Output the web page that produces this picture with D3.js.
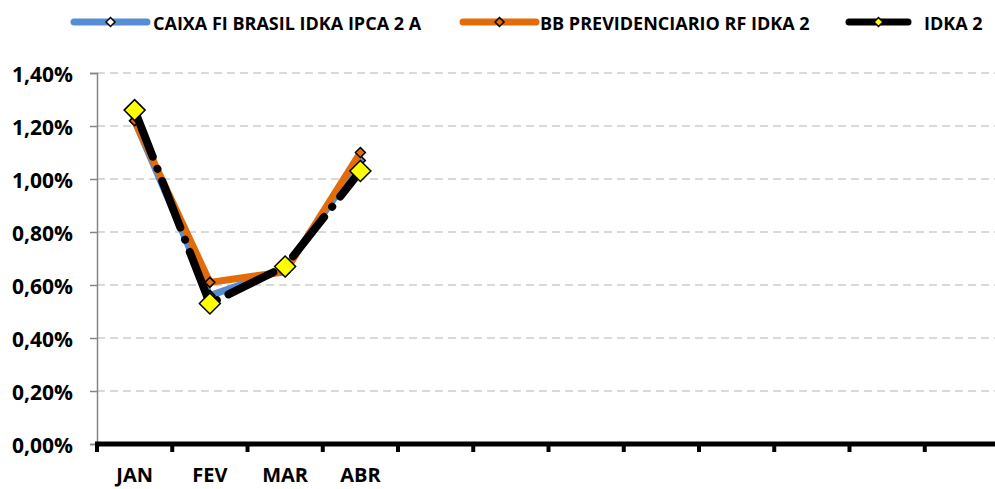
<!DOCTYPE html>
<html>
<head>
<meta charset="utf-8">
<script src="https://cdn.jsdelivr.net/npm/d3@7"></script>
<style>
  body { margin: 0; background: #fff; }
  svg { font-family: "Open Sans", "Noto Sans", sans-serif; font-weight: bold; }
</style>
</head>
<body>
<div id="chart"></div>
<script>
// categories (12 slots on the axis, only first four labelled)
const slots = ["JAN", "FEV", "MAR", "ABR", "MAI", "JUN", "JUL", "AGO", "SET", "OUT", "NOV", "DEZ"];
const tickLabels = ["JAN", "FEV", "MAR", "ABR"];

// series values, in %
const caixa = [1.22, 0.56, 0.66, 1.07];
const bb = [1.22, 0.61, 0.65, 1.10];
const idka = [1.26, 0.53, 0.67, 1.03];

const yTicks = [0, 0.2, 0.4, 0.6, 0.8, 1.0, 1.2, 1.4];

const seriesNames = ["CAIXA FI BRASIL IDKA IPCA 2 A", "BB PREVIDENCIARIO RF IDKA 2", "IDKA 2"];

const width = 995, height = 489;
const margin = { top: 73, right: -5, bottom: 45, left: 97 };

const svg = d3.select("#chart")
  .append("svg")
  .attr("width", width)
  .attr("height", height);

const x = d3.scaleBand()
  .domain(slots)
  .range([margin.left, width - margin.right]);

const y = d3.scaleLinear()
  .domain([0, 1.4])
  .range([height - margin.bottom, margin.top]);

const fmt = v => d3.format(".2f")(v).replace(".", ",") + "%";

// gridlines
svg.append("g")
  .selectAll("line")
  .data(yTicks.slice(1))
  .enter()
  .append("line")
  .attr("x1", margin.left)
  .attr("x2", width)
  .attr("y1", d => y(d))
  .attr("y2", d => y(d))
  .attr("stroke", "#d9d9d9")
  .attr("stroke-width", 2)
  .attr("stroke-dasharray", "8,5");

// y axis
const yAxis = svg.append("g")
  .attr("transform", "translate(" + margin.left + ",0)")
  .call(d3.axisLeft(y).tickValues(yTicks).tickFormat(fmt).tickSize(7).tickPadding(17));
yAxis.select(".domain").attr("stroke", "#868686").attr("stroke-width", 1.5);
yAxis.selectAll(".tick line").attr("stroke", "#868686").attr("stroke-width", 1.5);
yAxis.selectAll("text")
  .attr("fill", "#000")
  .attr("dy", "0.42em")
  .style("font-size", "21px")
  .style("font-family", "'Open Sans', sans-serif")
  .style("font-weight", "bold");

// x axis
const baseY = y(0);
svg.append("line")
  .attr("x1", margin.left - 2)
  .attr("x2", width)
  .attr("y1", baseY)
  .attr("y2", baseY)
  .attr("stroke", "#000")
  .attr("stroke-width", 5);

const boundaries = d3.range(slots.length + 1).map(i => x.range()[0] + i * x.step());
svg.append("g")
  .selectAll("line")
  .data(boundaries)
  .enter()
  .append("line")
  .attr("x1", d => d)
  .attr("x2", d => d)
  .attr("y1", baseY)
  .attr("y2", baseY + 8)
  .attr("stroke", "#000")
  .attr("stroke-width", 4);

svg.append("g")
  .selectAll("text")
  .data(tickLabels)
  .enter()
  .append("text")
  .attr("x", d => x(d) + x.bandwidth() / 2)
  .attr("y", baseY + 38)
  .attr("text-anchor", "middle")
  .style("font-size", "20px")
  .text(d => d);

const line = d3.line()
  .x((d, i) => x(slots[i]) + x.bandwidth() / 2)
  .y(d => y(d));

const diamond = s => "M0," + (-s) + "L" + s + ",0L0," + s + "L" + (-s) + ",0Z";

function drawSeries(data, color, widthPx, dash, markerFill, markerSize) {
  const g = svg.append("g");
  g.append("path")
    .datum(data)
    .attr("d", line)
    .attr("fill", "none")
    .attr("stroke", color)
    .attr("stroke-width", widthPx)
    .attr("stroke-linejoin", "round")
    .attr("stroke-linecap", "round")
    .attr("stroke-dasharray", dash);
  g.selectAll("path.m")
    .data(data)
    .enter()
    .append("path")
    .attr("class", "m")
    .attr("transform", (d, i) => "translate(" + (x(slots[i]) + x.bandwidth() / 2) + "," + y(d) + ")")
    .attr("d", diamond(markerSize))
    .attr("fill", markerFill)
    .attr("stroke", "#000")
    .attr("stroke-width", 1.5);
}

drawSeries(caixa, "#558ed5", 7, null, "#558ed5", 5);
drawSeries(bb, "#e36c09", 7, null, "#e36c09", 5);
drawSeries(idka, "#000", 8, "50,13,0.1,13", "#ffff00", 10.5);

// legend
const legend = [
  { name: seriesNames[0], color: "#558ed5", fill: "#fff", x1: 74, x2: 147, tx: 153 },
  { name: seriesNames[1], color: "#e36c09", fill: "#e36c09", x1: 463, x2: 536, tx: 540 },
  { name: seriesNames[2], color: "#000", fill: "#ffff00", x1: 849, x2: 908, tx: 924 }
];
const lg = svg.append("g")
  .selectAll("g")
  .data(legend)
  .enter()
  .append("g");
lg.append("line")
  .attr("x1", d => d.x1)
  .attr("x2", d => d.x2)
  .attr("y1", 22)
  .attr("y2", 22)
  .attr("stroke", d => d.color)
  .attr("stroke-width", 7)
  .attr("stroke-linecap", "round");
lg.append("path")
  .attr("transform", d => "translate(" + ((d.x1 + d.x2) / 2) + ",22)")
  .attr("d", diamond(4.5))
  .attr("fill", d => d.fill)
  .attr("stroke", "#000")
  .attr("stroke-width", 1.5);
lg.append("text")
  .attr("x", d => d.tx)
  .attr("y", 30)
  .style("font-size", "18px")
  .text(d => d.name);
</script>
</body>
</html>
